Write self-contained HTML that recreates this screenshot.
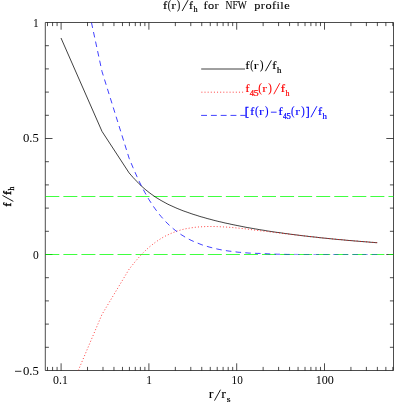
<!DOCTYPE html>
<html><head><meta charset="utf-8"><title>f(r)/fh for NFW profile</title>
<style>html,body{margin:0;padding:0;background:#fff;}#w{width:415px;height:415px;will-change:transform;}svg{display:block;}text{font-family:"Liberation Serif",serif;}</style></head><body><div id="w">
<svg width="415" height="415" viewBox="0 0 415 415">
<path d="M45.3 22.5H393.5V370.5H45.3ZM47.50 370.5v-3.6M47.50 22.5v3.6M52.59 370.5v-3.6M52.59 22.5v3.6M57.08 370.5v-3.6M57.08 22.5v3.6M61.10 370.5v-7.2M61.10 22.5v7.2M87.53 370.5v-3.6M87.53 22.5v3.6M102.99 370.5v-3.6M102.99 22.5v3.6M113.96 370.5v-3.6M113.96 22.5v3.6M122.47 370.5v-3.6M122.47 22.5v3.6M129.42 370.5v-3.6M129.42 22.5v3.6M135.30 370.5v-3.6M135.30 22.5v3.6M140.39 370.5v-3.6M140.39 22.5v3.6M144.88 370.5v-3.6M144.88 22.5v3.6M148.90 370.5v-7.2M148.90 22.5v7.2M175.33 370.5v-3.6M175.33 22.5v3.6M190.79 370.5v-3.6M190.79 22.5v3.6M201.76 370.5v-3.6M201.76 22.5v3.6M210.27 370.5v-3.6M210.27 22.5v3.6M217.22 370.5v-3.6M217.22 22.5v3.6M223.10 370.5v-3.6M223.10 22.5v3.6M228.19 370.5v-3.6M228.19 22.5v3.6M232.68 370.5v-3.6M232.68 22.5v3.6M236.70 370.5v-7.2M236.70 22.5v7.2M263.13 370.5v-3.6M263.13 22.5v3.6M278.59 370.5v-3.6M278.59 22.5v3.6M289.56 370.5v-3.6M289.56 22.5v3.6M298.07 370.5v-3.6M298.07 22.5v3.6M305.02 370.5v-3.6M305.02 22.5v3.6M310.90 370.5v-3.6M310.90 22.5v3.6M315.99 370.5v-3.6M315.99 22.5v3.6M320.48 370.5v-3.6M320.48 22.5v3.6M324.50 370.5v-7.2M324.50 22.5v7.2M350.93 370.5v-3.6M350.93 22.5v3.6M366.39 370.5v-3.6M366.39 22.5v3.6M377.36 370.5v-3.6M377.36 22.5v3.6M385.87 370.5v-3.6M385.87 22.5v3.6M392.82 370.5v-3.6M392.82 22.5v3.6M45.3 347.30h3.6M393.5 347.30h-3.6M45.3 324.10h3.6M393.5 324.10h-3.6M45.3 300.90h3.6M393.5 300.90h-3.6M45.3 277.70h3.6M393.5 277.70h-3.6M45.3 254.50h7.2M393.5 254.50h-7.2M45.3 231.30h3.6M393.5 231.30h-3.6M45.3 208.10h3.6M393.5 208.10h-3.6M45.3 184.90h3.6M393.5 184.90h-3.6M45.3 161.70h3.6M393.5 161.70h-3.6M45.3 138.50h7.2M393.5 138.50h-7.2M45.3 115.30h3.6M393.5 115.30h-3.6M45.3 92.10h3.6M393.5 92.10h-3.6M45.3 68.90h3.6M393.5 68.90h-3.6M45.3 45.70h3.6M393.5 45.70h-3.6" fill="none" stroke="#000" stroke-width="0.7"/>
<defs><linearGradient id="bg" gradientUnits="userSpaceOnUse" x1="272" y1="0" x2="300" y2="0"><stop offset="0" stop-color="#0000ff" stop-opacity="1"/><stop offset="1" stop-color="#0000ff" stop-opacity="0.55"/></linearGradient><clipPath id="cp"><rect x="45.3" y="22.5" width="348.2" height="348.0"/></clipPath></defs>
<g fill="none" stroke-width="0.75">
<path d="M45.3 196.5H393.5" stroke="#00ff00" stroke-dasharray="14 4.06"/>
<path d="M45.3 254.5H393.5" stroke="#00ff00" stroke-dasharray="14 4.06"/>
<path d="M61.0 38.0L102.0 131.4L129.1 172.9L131.1 175.2L133.1 177.5L135.1 179.6L137.1 181.7L139.1 183.8L141.1 185.7L143.1 187.5L145.1 189.3L147.1 190.9L149.1 192.5L151.1 194.0L153.1 195.4L155.1 196.8L157.1 198.1L159.1 199.3L161.1 200.5L163.1 201.6L165.1 202.7L167.1 203.8L169.1 204.8L171.1 205.7L173.1 206.6L175.1 207.5L177.1 208.4L179.1 209.2L181.1 210.0L183.1 210.8L185.1 211.5L187.1 212.2L189.1 212.9L191.1 213.6L193.1 214.3L195.1 214.9L197.1 215.5L199.1 216.2L201.1 216.8L203.1 217.3L205.1 217.9L207.1 218.5L209.1 219.0L211.1 219.5L213.1 220.1L215.1 220.6L217.1 221.1L219.1 221.6L221.1 222.0L223.1 222.5L225.1 223.0L227.1 223.4L229.1 223.8L231.1 224.3L233.1 224.7L235.1 225.1L237.1 225.5L239.1 225.9L241.1 226.3L243.1 226.7L245.1 227.1L247.1 227.5L249.1 227.8L251.1 228.2L253.1 228.5L255.1 228.9L257.1 229.2L259.1 229.6L261.1 229.9L263.1 230.2L265.1 230.5L267.1 230.9L269.1 231.2L271.1 231.5L273.1 231.8L275.1 232.1L277.1 232.4L279.1 232.6L281.1 232.9L283.1 233.2L285.1 233.5L287.1 233.7L289.1 234.0L291.1 234.3L293.1 234.5L295.1 234.8L297.1 235.0L299.1 235.3L301.1 235.5L303.1 235.8L305.1 236.0L307.1 236.2L309.1 236.5L311.1 236.7L313.1 236.9L315.1 237.1L317.1 237.3L319.1 237.6L321.1 237.8L323.1 238.0L325.1 238.2L327.1 238.4L329.1 238.6L331.1 238.8L333.1 239.0L335.1 239.2L337.1 239.4L339.1 239.6L341.1 239.7L343.1 239.9L345.1 240.1L347.1 240.3L349.1 240.5L351.1 240.6L353.1 240.8L355.1 241.0L357.1 241.1L359.1 241.3L361.1 241.5L363.1 241.6L365.1 241.8L367.1 241.9L369.1 242.1L371.1 242.3L373.1 242.4L375.1 242.6L377.1 242.7L377.3 242.7" stroke="#000"/>
<path d="M61.0 411.3L102.0 314.4L129.1 269.2L131.1 266.7L133.1 264.2L135.1 261.7L137.1 259.4L139.1 257.1L141.1 254.9L143.1 252.8L145.1 250.9L147.1 249.0L149.1 247.2L151.1 245.6L153.1 244.0L155.1 242.5L157.1 241.1L159.1 239.7L161.1 238.5L163.1 237.3L165.1 236.2L167.1 235.2L169.1 234.3L171.1 233.4L173.1 232.6L175.1 231.8L177.1 231.1L179.1 230.5L181.1 229.9L183.1 229.4L185.1 228.9L187.1 228.5L189.1 228.2L191.1 227.8L193.1 227.6L195.1 227.3L197.1 227.1L199.1 226.9L201.1 226.8L203.1 226.7L205.1 226.6L207.1 226.5L209.1 226.5L211.1 226.5L213.1 226.5L215.1 226.5L217.1 226.6L219.1 226.7L221.1 226.8L223.1 226.9L225.1 227.0L227.1 227.1L229.1 227.3L231.1 227.4L233.1 227.6L235.1 227.8L237.1 228.0L239.1 228.2L241.1 228.4L243.1 228.6L245.1 228.8L247.1 229.0L249.1 229.3L251.1 229.6L253.1 229.9L255.1 230.1L257.1 230.4L259.1 230.6L261.1 230.9L263.1 231.1L265.1 231.3L267.1 231.5L269.1 231.8L271.1 232.0L273.1 232.2L275.1 232.5L277.1 232.7L279.1 232.9L281.1 233.2L283.1 233.4L285.1 233.7L287.1 233.9L289.1 234.1L291.1 234.4L293.1 234.6L295.1 234.9L297.1 235.1L299.1 235.3L301.1 235.6L303.1 235.8L305.1 236.0L307.1 236.3L309.1 236.5L311.1 236.7L313.1 236.9L315.1 237.1L317.1 237.4L319.1 237.6L321.1 237.8L323.1 238.0L325.1 238.2L327.1 238.4L329.1 238.6L331.1 238.8L333.1 239.0L335.1 239.2L337.1 239.4L339.1 239.6L341.1 239.7L343.1 239.9L345.1 240.1L347.1 240.3L349.1 240.5L351.1 240.6L353.1 240.8L355.1 241.0L357.1 241.1L359.1 241.3L361.1 241.5L363.1 241.6L365.1 241.8L367.1 241.9L369.1 242.1L371.1 242.3L373.1 242.4L375.1 242.6L377.1 242.7L377.3 242.7" stroke="#ff0000" stroke-dasharray="1 2.13" stroke-dashoffset="2.65" clip-path="url(#cp)"/>
<path d="M61.0 -118.8L102.0 71.5L129.1 158.2L131.1 163.0L133.1 167.8L135.1 172.4L137.1 176.9L139.1 181.2L141.1 185.3L143.1 189.2L145.1 192.9L147.1 196.4L149.1 199.8L151.1 202.9L153.1 206.0L155.1 208.8L157.1 211.5L159.1 214.1L161.1 216.5L163.1 218.8L165.1 221.0L167.1 223.1L169.1 225.0L171.1 226.8L173.1 228.6L175.1 230.2L177.1 231.7L179.1 233.2L181.1 234.6L183.1 235.8L185.1 237.1L187.1 238.2L189.1 239.3L191.1 240.3L193.1 241.2L195.1 242.1L197.1 242.9L199.1 243.7L201.1 244.5L203.1 245.2L205.1 245.8L207.1 246.4L209.1 247.0L211.1 247.5L213.1 248.0L215.1 248.5L217.1 249.0L219.1 249.4L221.1 249.8L223.1 250.1L225.1 250.5L227.1 250.8L229.1 251.1L231.1 251.3L233.1 251.6L235.1 251.8L237.1 252.1L239.1 252.3L241.1 252.4L243.1 252.6L245.1 252.8L247.1 252.9L249.1 253.1L251.1 253.1L253.1 253.2L255.1 253.3L257.1 253.4L259.1 253.4L261.1 253.5L263.1 253.6L265.1 253.7L267.1 253.8L269.1 253.9L271.1 254.0L273.1 254.0L275.1 254.1L277.1 254.2L279.1 254.2L281.1 254.3L283.1 254.3L285.1 254.3L287.1 254.4L289.1 254.4L291.1 254.4L293.1 254.4L295.1 254.4L297.1 254.4L299.1 254.5L301.1 254.5L303.1 254.5L305.1 254.5L307.1 254.5L309.1 254.5L311.1 254.5L313.1 254.5L315.1 254.5L317.1 254.5L319.1 254.5L321.1 254.5L323.1 254.5L325.1 254.5L327.1 254.5L329.1 254.5L331.1 254.5L333.1 254.5L335.1 254.5L337.1 254.5L339.1 254.5L341.1 254.5L343.1 254.5L345.1 254.5L347.1 254.5L349.1 254.5L351.1 254.5L353.1 254.5L355.1 254.5L357.1 254.5L359.1 254.5L361.1 254.5L363.1 254.5L365.1 254.5L367.1 254.5L369.1 254.5L371.1 254.5L373.1 254.5L375.1 254.5L377.1 254.5L377.3 254.5" stroke="url(#bg)" stroke-dasharray="5.55 4.2" stroke-dashoffset="1.71" clip-path="url(#cp)"/>
<path d="M201.2 69.0H245.0" stroke="#000"/>
<path d="M201.4 92.2H245.2" stroke="#ff0000" stroke-dasharray="1 2.13"/>
<path d="M201.1 115.4H245.6" stroke="#0000ff" stroke-dasharray="5.9 3.9"/>
</g>
<text transform="translate(163.01,8.50) scale(1.144,1.000)" font-size="11" fill="#000" stroke="#000" stroke-width="0.2">f</text>
<text transform="translate(167.79,8.67) scale(0.850,1.143)" font-size="11" fill="#000" stroke="#000" stroke-width="0.12">(</text>
<text transform="translate(171.29,8.50) scale(1.300,1.000)" font-size="11" fill="#000" stroke="#000" stroke-width="0.08">r</text>
<text transform="translate(176.99,8.67) scale(0.884,1.143)" font-size="11" fill="#000" stroke="#000" stroke-width="0.12">)</text>
<path d="M182.1 11.0L188.1 0.1" stroke="#000" stroke-width="0.9" fill="none"/>
<text transform="translate(188.93,8.50) scale(1.084,1.000)" font-size="11" fill="#000" stroke="#000" stroke-width="0.2">f</text>
<text transform="translate(193.42,11.80) scale(1.090,1.000)" font-size="7.5" fill="#000" stroke="#000" stroke-width="0.2">h</text>
<text transform="translate(203.6,8.5) scale(1.12,1)" font-size="11" fill="#000" textLength="13.39" lengthAdjust="spacing" stroke="#000" stroke-width="0.12">for</text>
<text x="225.5" y="8.5" font-size="11.8" fill="#000" textLength="21.2" lengthAdjust="spacingAndGlyphs" stroke="#000" stroke-width="0.12">NFW</text>
<text transform="translate(254.3,8.5) scale(1.12,1)" font-size="11" fill="#000" textLength="31.61" lengthAdjust="spacing" stroke="#000" stroke-width="0.12">profile</text>
<text x="35.9" y="26.7" font-size="11.5" fill="#000" text-anchor="middle">1</text>
<text x="22.9" y="142.3" font-size="11.5" fill="#000" textLength="15.9" lengthAdjust="spacingAndGlyphs">0.5</text>
<text x="35.8" y="258.5" font-size="11.5" fill="#000" text-anchor="middle">0</text>
<path d="M15.0 371.3H21.4" stroke="#000" stroke-width="0.8" fill="none"/>
<text x="22.9" y="374.7" font-size="11.5" fill="#000" textLength="15.9" lengthAdjust="spacingAndGlyphs">0.5</text>
<text x="53.0" y="384.2" font-size="11.5" fill="#000" textLength="14.8" lengthAdjust="spacingAndGlyphs">0.1</text>
<text x="149.0" y="384.2" font-size="11.5" fill="#000" text-anchor="middle">1</text>
<text x="231.6" y="384.2" font-size="11.5" fill="#000" textLength="11.2" lengthAdjust="spacingAndGlyphs">10</text>
<text x="315.7" y="384.2" font-size="11.5" fill="#000" textLength="18.2" lengthAdjust="spacingAndGlyphs">100</text>
<text transform="translate(208.64,398.10) scale(1.300,1.120)" font-size="11" fill="#000" stroke="#000" stroke-width="0.08">r</text>
<path d="M214.5 400.6L220.5 389.7" stroke="#000" stroke-width="0.9" fill="none"/>
<text transform="translate(221.24,398.10) scale(1.300,1.120)" font-size="11" fill="#000" stroke="#000" stroke-width="0.08">r</text>
<text transform="translate(226.63,401.70) scale(1.300,1.000)" font-size="7.5" fill="#000" stroke="#000" stroke-width="0.2">s</text>
<g transform="translate(10.85,206.1) rotate(-90)">
<text transform="translate(-0.45,0.00) scale(1.023,1.000)" font-size="11" fill="#000" stroke="#000" stroke-width="0.45">f</text>
<path d="M4.7 2.5L10.7 -8.4" stroke="#000" stroke-width="0.9" fill="none"/>
<text transform="translate(11.02,0.00) scale(1.114,1.000)" font-size="11" fill="#000" stroke="#000" stroke-width="0.45">f</text>
<text transform="translate(15.72,3.25) scale(1.006,1.000)" font-size="7.5" fill="#000" stroke="#000" stroke-width="0.3">h</text>
</g>
<text transform="translate(245.43,68.65) scale(1.084,1.000)" font-size="11" fill="#000" stroke="#000" stroke-width="0.2">f</text>
<text transform="translate(250.19,68.82) scale(0.850,1.143)" font-size="11" fill="#000" stroke="#000" stroke-width="0.12">(</text>
<text transform="translate(253.84,68.65) scale(1.300,1.000)" font-size="11" fill="#000" stroke="#000" stroke-width="0.08">r</text>
<text transform="translate(259.96,68.82) scale(0.955,1.143)" font-size="11" fill="#000" stroke="#000" stroke-width="0.12">)</text>
<path d="M265.4 71.2L271.4 60.3" stroke="#000" stroke-width="0.9" fill="none"/>
<text transform="translate(272.31,68.65) scale(1.144,1.000)" font-size="11" fill="#000" stroke="#000" stroke-width="0.2">f</text>
<text transform="translate(277.01,72.65) scale(1.174,1.000)" font-size="7.5" fill="#000" stroke="#000" stroke-width="0.2">h</text>
<text transform="translate(245.43,91.65) scale(1.084,1.000)" font-size="11" fill="#ff0000" stroke="#ff0000" stroke-width="0.2">f</text>
<text transform="translate(249.63,95.65) scale(1.149,1.000)" font-size="7.5" fill="#ff0000" stroke="#ff0000" stroke-width="0.2">4</text>
<text transform="translate(253.67,95.65) scale(1.300,1.000)" font-size="7.5" fill="#ff0000" stroke="#ff0000" stroke-width="0.2">5</text>
<text transform="translate(258.22,91.82) scale(0.990,1.143)" font-size="11" fill="#ff0000" stroke="#ff0000" stroke-width="0.12">(</text>
<text transform="translate(262.29,91.65) scale(1.300,1.000)" font-size="11" fill="#ff0000" stroke="#ff0000" stroke-width="0.08">r</text>
<text transform="translate(268.35,91.82) scale(0.990,1.143)" font-size="11" fill="#ff0000" stroke="#ff0000" stroke-width="0.12">)</text>
<path d="M273.8 94.2L279.8 83.2" stroke="#ff0000" stroke-width="0.9" fill="none"/>
<text transform="translate(280.70,91.65) scale(1.174,1.000)" font-size="11" fill="#ff0000" stroke="#ff0000" stroke-width="0.2">f</text>
<text transform="translate(285.52,95.65) scale(1.062,1.000)" font-size="7.5" fill="#ff0000" stroke="#ff0000" stroke-width="0.2">h</text>
<text transform="translate(244.87,115.75) scale(1.141,1.210)" font-size="11" fill="#0000ff" stroke="#0000ff" stroke-width="0.3">[</text>
<text transform="translate(250.23,114.65) scale(1.084,1.000)" font-size="11" fill="#0000ff" stroke="#0000ff" stroke-width="0.2">f</text>
<text transform="translate(254.92,114.82) scale(0.990,1.143)" font-size="11" fill="#0000ff" stroke="#0000ff" stroke-width="0.12">(</text>
<text transform="translate(258.99,114.65) scale(1.300,1.000)" font-size="11" fill="#0000ff" stroke="#0000ff" stroke-width="0.08">r</text>
<text transform="translate(265.06,114.82) scale(0.955,1.143)" font-size="11" fill="#0000ff" stroke="#0000ff" stroke-width="0.12">)</text>
<path d="M270.9 112.2H276.6" stroke="#0000ff" stroke-width="0.8" fill="none"/>
<text transform="translate(278.52,114.65) scale(1.114,1.000)" font-size="11" fill="#0000ff" stroke="#0000ff" stroke-width="0.2">f</text>
<text transform="translate(283.05,118.65) scale(1.006,1.000)" font-size="7.5" fill="#0000ff" stroke="#0000ff" stroke-width="0.2">4</text>
<text transform="translate(286.60,118.65) scale(1.158,1.000)" font-size="7.5" fill="#0000ff" stroke="#0000ff" stroke-width="0.2">5</text>
<text transform="translate(291.04,114.82) scale(0.955,1.143)" font-size="11" fill="#0000ff" stroke="#0000ff" stroke-width="0.12">(</text>
<text transform="translate(295.24,114.65) scale(1.300,1.000)" font-size="11" fill="#0000ff" stroke="#0000ff" stroke-width="0.08">r</text>
<text transform="translate(301.16,114.82) scale(0.955,1.143)" font-size="11" fill="#0000ff" stroke="#0000ff" stroke-width="0.12">)</text>
<text transform="translate(305.91,115.75) scale(0.978,1.210)" font-size="11" fill="#0000ff" stroke="#0000ff" stroke-width="0.3">]</text>
<path d="M310.9 117.2L316.9 106.2" stroke="#0000ff" stroke-width="0.9" fill="none"/>
<text transform="translate(317.92,114.65) scale(1.114,1.000)" font-size="11" fill="#0000ff" stroke="#0000ff" stroke-width="0.2">f</text>
<text transform="translate(322.51,118.65) scale(1.174,1.000)" font-size="7.5" fill="#0000ff" stroke="#0000ff" stroke-width="0.2">h</text>
</svg></div></body></html>
